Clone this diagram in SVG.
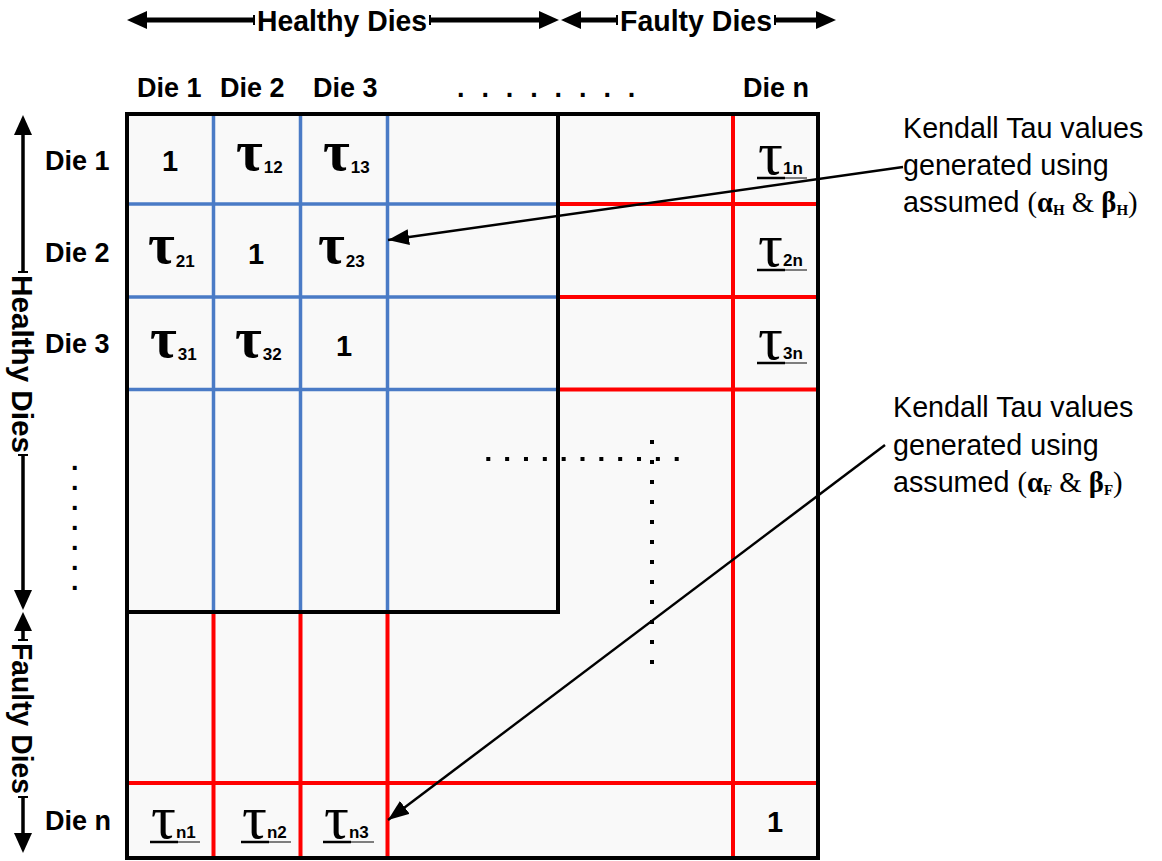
<svg xmlns="http://www.w3.org/2000/svg" width="1162" height="861" viewBox="0 0 1162 861">
<defs>
<style>
.lbl{font-family:"Liberation Sans",Arial,sans-serif;font-weight:bold;font-size:27px;fill:#000}
.ax{font-family:"Liberation Sans",Arial,sans-serif;font-weight:bold;font-size:30px;fill:#000}
.one{font-family:"Liberation Sans",Arial,sans-serif;font-weight:bold;font-size:29px;text-anchor:middle;fill:#000}
.tb{font-family:"Liberation Serif","Times New Roman",serif;font-weight:bold;font-size:58px;fill:#000}
.tr{font-family:"Liberation Serif","Times New Roman",serif;font-size:62px;fill:#000}
.sub{font-family:"Liberation Sans",Arial,sans-serif;font-weight:bold;font-size:17px}
.ann{font-family:"Liberation Sans",Arial,sans-serif;font-size:28.7px;fill:#000}
.gr{font-family:"Liberation Serif","Times New Roman",serif}
.grb{font-family:"Liberation Serif","Times New Roman",serif;font-weight:bold}
.grs{font-family:"Liberation Serif","Times New Roman",serif;font-weight:bold;font-size:15px}
.blue{stroke:#4a7bc6;stroke-width:3.5;fill:none}
.red{stroke:#ff0000;stroke-width:4;fill:none}
.blk{stroke:#000;stroke-width:4;fill:none}
.axl{stroke:#000;stroke-width:5;fill:none}
.vl{stroke:#000;stroke-width:3.5;fill:none}
.tick{stroke:#000;stroke-width:2;fill:none}
.ul{stroke:#000;stroke-width:2.5}
.ul2{stroke:#555;stroke-width:1.5}
.conn{stroke:#000;stroke-width:2.5;fill:none}
.dots{stroke:#000;stroke-width:4;fill:none}
.head{fill:#000;stroke:none}
</style>
<marker id="ah" markerUnits="userSpaceOnUse" markerWidth="22" markerHeight="16" refX="21" refY="8" orient="auto">
<path d="M0,0 L21,8 L0,16 z" fill="#000"/>
</marker>
</defs>
<rect x="0" y="0" width="1162" height="861" fill="#fff"/>

<!-- matrix background -->
<g id="matrix">
<rect x="127" y="114" width="691" height="744" fill="#f9f9f9"/>
<line class="blue" x1="213.5" y1="114" x2="213.5" y2="612"/>
<line class="blue" x1="300.5" y1="114" x2="300.5" y2="612"/>
<line class="blue" x1="387.5" y1="114" x2="387.5" y2="612"/>
<line class="blue" x1="127" y1="204" x2="558" y2="204"/>
<line class="blue" x1="127" y1="297" x2="558" y2="297"/>
<line class="blue" x1="127" y1="389.5" x2="558" y2="389.5"/>
<line class="red" x1="558" y1="204" x2="818" y2="204"/>
<line class="red" x1="558" y1="297" x2="818" y2="297"/>
<line class="red" x1="558" y1="389.5" x2="818" y2="389.5"/>
<line class="red" x1="213.5" y1="612" x2="213.5" y2="858"/>
<line class="red" x1="300.5" y1="612" x2="300.5" y2="858"/>
<line class="red" x1="387.5" y1="612" x2="387.5" y2="858"/>
<line class="red" x1="127" y1="783" x2="818" y2="783"/>
<line class="red" x1="733" y1="114" x2="733" y2="858"/>
<line class="dots" x1="486.3" y1="459" x2="679" y2="459" stroke-dasharray="4 14.84"/>
<line class="dots" x1="652" y1="440" x2="652" y2="666" stroke-dasharray="4 16"/>
<rect class="blk" x="127" y="114" width="431" height="498"/>
<rect class="blk" x="127" y="114" width="691" height="744"/>
</g>

<!-- top axis -->
<g id="top-axis">
<polygon class="head" points="127,20 147,11 147,29"/>
<line class="axl" x1="145" y1="20" x2="254" y2="20"/>
<line class="tick" x1="254" y1="15" x2="254" y2="25"/>
<text class="ax" x="257" y="31" textLength="170" lengthAdjust="spacingAndGlyphs">Healthy Dies</text>
<line class="tick" x1="430" y1="15" x2="430" y2="25"/>
<line class="axl" x1="430" y1="20" x2="541" y2="20"/>
<polygon class="head" points="559,20 539,11 539,29"/>
<polygon class="head" points="561,20 581,11 581,29"/>
<line class="axl" x1="579" y1="20" x2="617" y2="20"/>
<line class="tick" x1="617" y1="15" x2="617" y2="25"/>
<text class="ax" x="620" y="31" textLength="152" lengthAdjust="spacingAndGlyphs">Faulty Dies</text>
<line class="tick" x1="775" y1="15" x2="775" y2="25"/>
<line class="axl" x1="775" y1="20" x2="818" y2="20"/>
<polygon class="head" points="836,20 816,11 816,29"/>
</g>

<!-- left axis -->
<g id="left-axis">
<polygon class="head" points="23,115 14,135 32,135"/>
<line class="vl" x1="23" y1="133" x2="23" y2="272"/>
<line class="tick" x1="18" y1="272" x2="28" y2="272"/>
<text class="ax" transform="translate(12,275) rotate(90)" textLength="178" lengthAdjust="spacingAndGlyphs">Healthy Dies</text>
<line class="tick" x1="18" y1="455" x2="28" y2="455"/>
<line class="vl" x1="23" y1="455" x2="23" y2="592"/>
<polygon class="head" points="23,610 14,590 32,590"/>
<polygon class="head" points="23,612 14,631 32,631"/>
<line class="vl" x1="23" y1="629" x2="23" y2="640"/>
<line class="tick" x1="18" y1="640" x2="28" y2="640"/>
<text class="ax" transform="translate(12,643) rotate(90)" textLength="151" lengthAdjust="spacingAndGlyphs">Faulty Dies</text>
<line class="tick" x1="18" y1="797" x2="28" y2="797"/>
<line class="vl" x1="23" y1="797" x2="23" y2="835"/>
<polygon class="head" points="23,853 14,833 32,833"/>
</g>

<!-- column labels -->
<g id="col-labels">
<text class="lbl" x="137" y="97">Die 1</text>
<text class="lbl" x="220" y="97">Die 2</text>
<text class="lbl" x="313" y="97">Die 3</text>
<text class="lbl" x="457 481.4 505.8 530.2 554.6 579 603.4 627.8" y="97">........</text>
<text class="lbl" x="743" y="97">Die n</text>
</g>

<!-- row labels -->
<g id="row-labels">
<text class="lbl" x="45" y="170">Die 1</text>
<text class="lbl" x="45" y="262">Die 2</text>
<text class="lbl" x="45" y="353">Die 3</text>
<text class="lbl" x="71 71 71 71 71 71 71" y="470 490 510 530 550 570 590">.......</text>
<text class="lbl" x="45" y="830">Die n</text>
</g>

<!-- cells -->
<g id="cell-1-1"><text class="one" x="170" y="171">1</text></g>
<g id="cell-1-2"><text class="tb" x="236" y="170">τ<tspan class="sub" dx="1" dy="3">12</tspan></text></g>
<g id="cell-1-3"><text class="tb" x="323" y="170">τ<tspan class="sub" dx="1" dy="3">13</tspan></text></g>
<g id="cell-1-n"><text class="tr" x="758" y="174">τ<tspan class="sub">1n</tspan></text>
<line class="ul" x1="757" y1="178" x2="785" y2="178"/><line class="ul2" x1="785" y1="178" x2="807" y2="178"/></g>

<g id="cell-2-1"><text class="tb" x="148" y="263">τ<tspan class="sub" dx="1" dy="4">21</tspan></text></g>
<g id="cell-2-2"><text class="one" x="256" y="264">1</text></g>
<g id="cell-2-3"><text class="tb" x="318" y="263">τ<tspan class="sub" dx="1" dy="4">23</tspan></text></g>
<g id="cell-2-n"><text class="tr" x="758" y="266">τ<tspan class="sub">2n</tspan></text>
<line class="ul" x1="757" y1="270" x2="785" y2="270"/><line class="ul2" x1="785" y1="270" x2="807" y2="270"/></g>

<g id="cell-3-1"><text class="tb" x="150" y="357">τ<tspan class="sub" dx="1" dy="3">31</tspan></text></g>
<g id="cell-3-2"><text class="tb" x="235" y="357">τ<tspan class="sub" dx="1" dy="3">32</tspan></text></g>
<g id="cell-3-3"><text class="one" x="344" y="356">1</text></g>
<g id="cell-3-n"><text class="tr" x="758" y="359">τ<tspan class="sub">3n</tspan></text>
<line class="ul" x1="757" y1="363" x2="785" y2="363"/><line class="ul2" x1="785" y1="363" x2="807" y2="363"/></g>

<g id="cell-n-1"><text class="tr" x="151" y="838">τ<tspan class="sub">n1</tspan></text>
<line class="ul" x1="150" y1="842" x2="178" y2="842"/><line class="ul2" x1="178" y1="842" x2="200" y2="842"/></g>
<g id="cell-n-2"><text class="tr" x="242" y="838">τ<tspan class="sub">n2</tspan></text>
<line class="ul" x1="241" y1="842" x2="269" y2="842"/><line class="ul2" x1="269" y1="842" x2="291" y2="842"/></g>
<g id="cell-n-3"><text class="tr" x="324" y="838">τ<tspan class="sub">n3</tspan></text>
<line class="ul" x1="323" y1="842" x2="351" y2="842"/><line class="ul2" x1="351" y1="842" x2="374" y2="842"/></g>
<g id="cell-n-n"><text class="one" x="775" y="832">1</text></g>

<!-- annotations -->
<g id="note-healthy">
<text class="ann" x="903" y="138">Kendall Tau values</text>
<text class="ann" x="903" y="175">generated using</text>
<text class="ann" x="903" y="212">assumed <tspan class="gr">(</tspan><tspan class="grb">α</tspan><tspan class="grs" dy="3">H</tspan><tspan class="gr" dy="-3"> &amp; </tspan><tspan class="grb">β</tspan><tspan class="grs" dy="3">H</tspan><tspan class="gr" dy="-3">)</tspan></text>
</g>
<g id="note-faulty">
<text class="ann" x="893" y="417">Kendall Tau values</text>
<text class="ann" x="893" y="455">generated using</text>
<text class="ann" x="893" y="492">assumed <tspan class="gr">(</tspan><tspan class="grb">α</tspan><tspan class="grs" dy="3">F</tspan><tspan class="gr" dy="-3"> &amp; </tspan><tspan class="grb">β</tspan><tspan class="grs" dy="3">F</tspan><tspan class="gr" dy="-3">)</tspan></text>
</g>

<!-- connectors -->
<g id="connectors">
<line class="conn" x1="903" y1="167" x2="388" y2="240" marker-end="url(#ah)"/>
<line class="conn" x1="885" y1="445" x2="388" y2="820" marker-end="url(#ah)"/>
</g>
</svg>
